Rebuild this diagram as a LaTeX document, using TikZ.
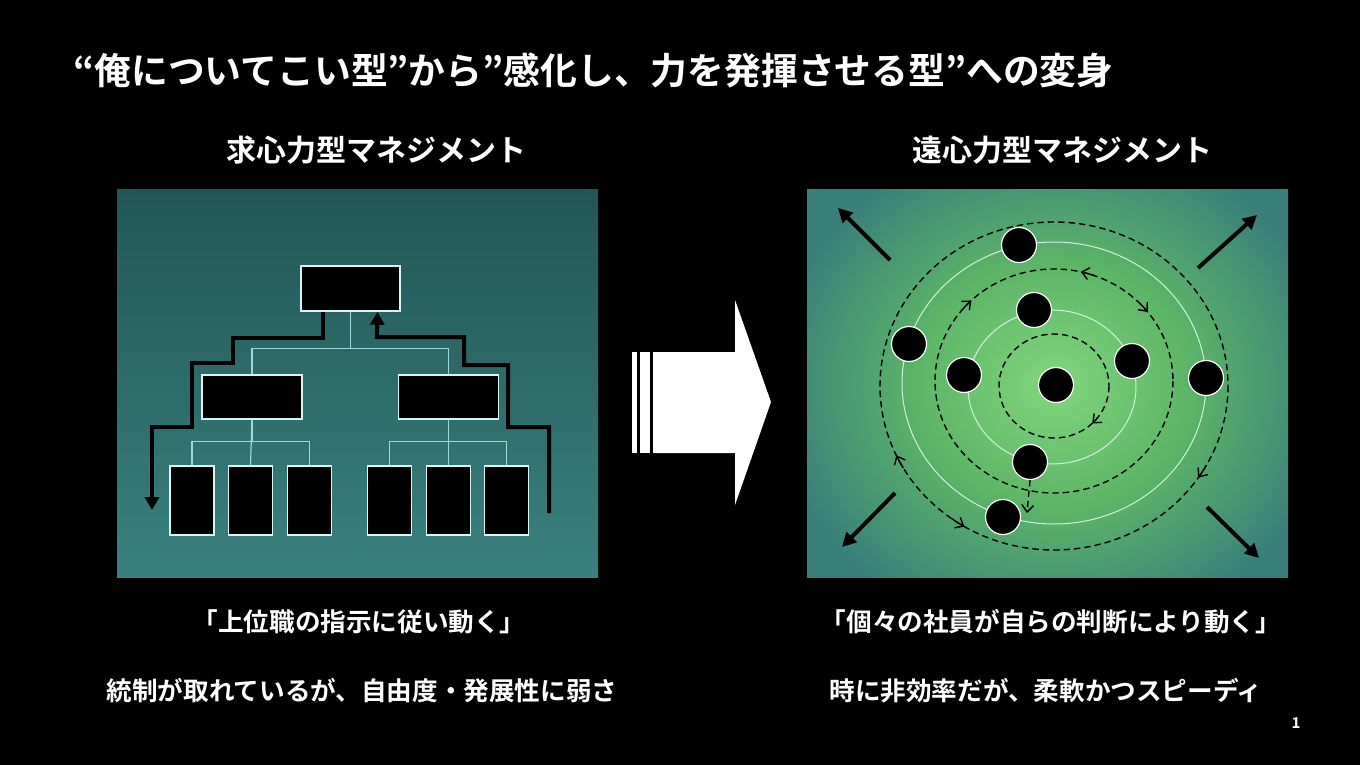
\documentclass[tikz,border=0pt]{standalone}
\usepackage{fontspec}
\setmainfont{Noto Sans CJK JP}[BoldFont={Noto Sans CJK JP Bold}]
\usetikzlibrary{arrows.meta}
\definecolor{paneltop}{HTML}{225656}
\definecolor{panelbot}{HTML}{3A8080}
\definecolor{tealedge}{HTML}{397F7C}
\definecolor{greenmid}{HTML}{5CB566}
\definecolor{greencore}{HTML}{82D67E}
\definecolor{boxline}{HTML}{D8F4F4}
\definecolor{connline}{HTML}{9ADADA}
\definecolor{orbitline}{HTML}{D0F0E0}
\pgfdeclareradialshading{orbitglow}{\pgfpoint{0bp}{0bp}}{color(0bp)=(greencore); color(6.5bp)=(greenmid); color(13.5bp)=(tealedge); color(50bp)=(tealedge)}
\tikzset{
  box/.style={draw=boxline, fill=black, line width=0.75pt, inner sep=0pt},
  topbox/.style={box, minimum width=49.5pt, minimum height=22.5pt},
  midbox/.style={box, minimum width=50pt, minimum height=22pt},
  lowbox/.style={box, minimum width=22pt, minimum height=34.5pt},
  member/.style={circle, draw=white, fill=black, line width=0.6pt, minimum size=17.5pt, inner sep=0pt},
  conn/.style={draw=connline, line width=0.6pt},
  flow/.style={line width=2pt, black, line join=miter},
  orbit/.style={draw=orbitline, line width=0.5pt},
  dashorbit/.style={black, dash pattern=on 3.2pt off 2pt, line width=0.7pt},
  barb/.style={-{Straight Barb[length=3.5pt,width=6pt]}, line width=0.7pt, black},
  outarrow/.style={line width=2pt, black, -{Triangle[length=7pt,width=7pt]}},
  titletext/.style={text=white, font=\bfseries\fontsize{18.4pt}{20pt}\selectfont, inner sep=0pt},
  headtext/.style={text=white, font=\bfseries\fontsize{15pt}{17pt}\selectfont, inner sep=0pt},
  bodytext/.style={text=white, font=\bfseries\fontsize{12.8pt}{15pt}\selectfont, inner sep=0pt}
}
\begin{document}
\begin{tikzpicture}[x=0.5pt, y=-0.5pt]
\useasboundingbox (0,0) rectangle (1360,765);
\fill[black] (0,0) rectangle (1360,765);

% title
\node[titletext, anchor=west] (title) at (73,70) {“俺についてこい型”から”感化し、力を発揮させる型”への変身};

% headings
\node[headtext] (hl) at (376,150) {求心力型マネジメント};
\node[headtext] (hr) at (1062,150) {遠心力型マネジメント};

% left panel
\shade[top color=paneltop, bottom color=panelbot] (117,189) rectangle (598,577);

\node[topbox] (top) at (350.5,288.5) {};
\node[midbox] (ml) at (252,397) {};
\node[midbox] (mr) at (448.5,397) {};
\node[lowbox] (b1) at (192,500.5) {};
\node[lowbox] (b2) at (250.5,500.5) {};
\node[lowbox] (b3) at (309.5,500.5) {};
\node[lowbox] (b4) at (389.5,500.5) {};
\node[lowbox] (b5) at (448.5,500.5) {};
\node[lowbox] (b6) at (506.5,500.5) {};

\draw[conn] (top.south) -- ++(0,37) -| (ml.north);
\draw[conn] (top.south) ++(0,37) -| (mr.north);
\draw[conn] (ml.south) -- ++(0,22) -| (b1.north);
\draw[conn] (ml.south) ++(0,22) -| (b3.north);
\draw[conn] (ml.south) -- (b2.north);
\draw[conn] (mr.south) -- ++(0,22) -| (b4.north);
\draw[conn] (mr.south) ++(0,22) -| (b6.north);
\draw[conn] (mr.south) -- (b5.north);

\coordinate (lend) at (152,510);
\coordinate (rstart) at (549,513);
\draw[flow, -{Triangle[length=6.5pt,width=7pt]}] ([xshift=-14pt]top.south) |- (233,338) |- (192,363) |- (152,427) -- (lend);
\draw[flow, -{Triangle[length=6.5pt,width=7pt]}] (rstart) |- (508,427) |- (464,365) |- (377,337) -- ([xshift=13.5pt]top.south);

% central arrow
\fill[white] (653,352) -- (735,352) -- (735,300) -- (771,402) -- (735,505) -- (735,453) -- (653,453) -- cycle;
\fill[white] (640,352) rectangle (650,453);
\fill[white] (632,352) rectangle (637,453);

% right panel
\begin{scope}
\clip (807,189) rectangle (1288,577);
\shade[shading=orbitglow] (1054,385) ellipse [x radius=520, y radius=470];
\end{scope}

\draw[orbit] (1052,387) ellipse [x radius=84, y radius=77];
\draw[orbit] (1054,383) ellipse [x radius=152, y radius=141];
\draw[dashorbit] (1054,386) ellipse [x radius=55, y radius=52];
\draw[dashorbit] (1054,381) ellipse [x radius=119, y radius=112];
\draw[dashorbit] (1054,386) ellipse [x radius=174, y radius=164];

% orbit arrowheads
\draw[barb] (1054,386) ++(38:55 and 52) arc[start angle=38, end angle=46, x radius=55, y radius=52];
\draw[barb] (1054,381) ++(-70:119 and 112) arc[start angle=-70, end angle=-77, x radius=119, y radius=112];
\draw[barb] (1054,381) ++(-44:119 and 112) arc[start angle=-44, end angle=-38, x radius=119, y radius=112];
\draw[barb] (1054,381) ++(-140:119 and 112) arc[start angle=-140, end angle=-134, x radius=119, y radius=112];
\draw[barb] (1054,386) ++(150:174 and 164) arc[start angle=150, end angle=155, x radius=174, y radius=164];
\draw[barb] (1054,386) ++(29:174 and 164) arc[start angle=29, end angle=34, x radius=174, y radius=164];
\draw[barb] (1054,386) ++(126:174 and 164) arc[start angle=126, end angle=121, x radius=174, y radius=164];

\node[member] (c1) at (1019,245) {};
\node[member] (c2) at (1034,310) {};
\node[member] (c3) at (909,344) {};
\node[member] (c4) at (964,375) {};
\node[member] (c5) at (1132,361) {};
\node[member] (c6) at (1206,378) {};
\node[member] (c7) at (1056,385) {};
\node[member] (c8) at (1030,462) {};
\node[member] (c9) at (1003,517) {};

\coordinate (dend) at (1027,513);
\draw[dashorbit, -{Straight Barb[length=3.5pt,width=6pt]}] (c8.south) -- (dend);

% outward arrows
\coordinate (tl0) at (890,260); \coordinate (tl1) at (838,208);
\coordinate (tr0) at (1198,268); \coordinate (tr1) at (1257,215);
\coordinate (bl0) at (895,493); \coordinate (bl1) at (842,547);
\coordinate (br0) at (1207,507); \coordinate (br1) at (1259,558);
\draw[outarrow] (tl0) -- (tl1);
\draw[outarrow] (tr0) -- (tr1);
\draw[outarrow] (bl0) -- (bl1);
\draw[outarrow] (br0) -- (br1);

% bottom texts
\node[bodytext] (l1) at (359,622) {「上位職の指示に従い動く」};
\node[bodytext] (l2) at (362,691) {統制が取れているが、自由度・発展性に弱さ};
\node[bodytext] (r1) at (1051,622) {「個々の社員が自らの判断により動く」};
\node[bodytext] (r2) at (1046,691) {時に非効率だが、柔軟かつスピーディ};

\node[text=white, font=\bfseries\fontsize{7.5pt}{8pt}\selectfont, inner sep=0pt] (pg) at (1296,723) {1};
\end{tikzpicture}
\end{document}
